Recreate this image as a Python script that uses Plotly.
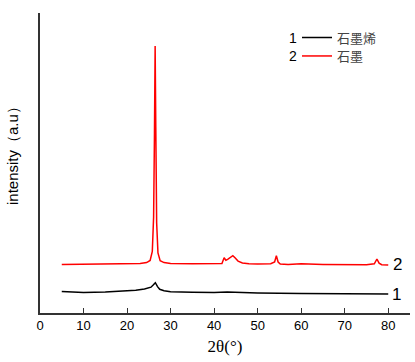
import plotly.graph_objects as go

# 2θ positions and intensities (arbitrary units)
x_graphite = [5, 10, 15, 20, 23, 24.5, 25.3, 25.8, 26.1, 26.3, 26.45, 26.6, 26.8, 27.1, 27.6, 28.5, 30,
              35, 40, 41.8, 42.3, 42.7, 43.1, 43.6, 44.3, 44.8, 45.5, 46.5, 48, 50, 53, 53.9, 54.3,
              54.7, 55.2, 57, 60, 65, 70, 75, 76.8, 77.4, 77.9, 78.5, 80]
y_graphite = [16.2, 16.3, 16.3, 16.4, 16.5, 16.8, 17.5, 20.5, 32, 60, 89, 62, 30, 20, 17.4, 16.8, 16.5,
              16.4, 16.3, 16.5, 18.4, 17.6, 17.9, 18.4, 19.1, 18.4, 17.3, 16.7, 16.4, 16.3, 16.4, 17.0, 19.1,
              17.0, 16.3, 16.2, 16.4, 16.2, 16.1, 16.1, 16.4, 18.0, 16.6, 16.1, 16.0]

x_graphene = [5, 10, 15, 20, 22, 24, 25.5, 26.0, 26.5, 27.0, 27.5, 28.5, 30, 35, 40, 43, 46, 50, 60, 70, 80]
y_graphene = [7.2, 6.8, 7.0, 7.3, 7.6, 8.0, 8.6, 9.3, 10.1, 8.8, 7.9, 7.4, 7.1, 6.9, 6.8, 7.0, 6.8, 6.7, 6.5, 6.4, 6.3]

series_names = ["石墨烯", "石墨"]
series_numbers = ["1", "2"]
x_ticks = [0, 10, 20, 30, 40, 50, 60, 70, 80]

fig = go.Figure()
fig.add_trace(go.Scatter(x=x_graphene, y=y_graphene, mode="lines", name=series_names[0],
                         line=dict(color="#000000", width=1.5), legend="legend"))
fig.add_trace(go.Scatter(x=x_graphite, y=y_graphite, mode="lines", name=series_names[1],
                         line=dict(color="#ff0000", width=1.5), legend="legend2"))

# numbers at the right end of each curve
fig.add_annotation(x=x_graphene[-1], y=y_graphene[-1], text=series_numbers[0], showarrow=False,
                   xanchor="left", xshift=2, font=dict(family="Liberation Sans", size=17, color="#000"))
fig.add_annotation(x=x_graphite[-1], y=y_graphite[-1], text=series_numbers[1], showarrow=False,
                   xanchor="left", xshift=3, yshift=1, font=dict(family="Liberation Sans", size=17, color="#000"))

legend_y = [1 - (37.5 - 13) / 300, 1 - (56 - 13) / 300]

# numbers in front of the legend entries
for i, num in enumerate(series_numbers):
    fig.add_annotation(x=(299 - 40) / 370, y=legend_y[i], xref="paper", yref="paper", text=num,
                       showarrow=False, xanchor="right", yanchor="middle",
                       font=dict(family="Liberation Sans", size=14, color="#000"))

leg_common = dict(x=(297 - 40) / 370, xanchor="left", yanchor="middle",
                  bgcolor="rgba(0,0,0,0)", itemwidth=30,
                  font=dict(family="Noto Sans CJK SC", size=13, color="#444"))

fig.update_layout(
    width=415, height=362,
    margin=dict(l=40, r=5, t=13, b=49),
    paper_bgcolor="white", plot_bgcolor="white",
    showlegend=True,
    legend=dict(y=legend_y[0], **leg_common),
    legend2=dict(y=legend_y[1], **leg_common),
    xaxis=dict(range=[0, 85], tickvals=x_ticks, ticks="inside", ticklen=5, tickcolor="#333",
               showline=True, linecolor="#333", linewidth=1.5, showgrid=False, zeroline=False,
               tickfont=dict(family="Liberation Sans", size=13, color="#000"),
               title=dict(text="2θ(°)", font=dict(family="Liberation Serif", size=17, color="#000"),
                          standoff=8)),
    yaxis=dict(range=[0, 100], showticklabels=False, ticks="", showline=True, linecolor="#333",
               linewidth=1.5, showgrid=False, zeroline=False),
)

fig.add_annotation(x=-40 / 370 + 12 / 370, y=1 - (152 - 13) / 300, xref="paper", yref="paper",
                   text="intensity（a.u）", textangle=-90, showarrow=False,
                   xanchor="center", yanchor="middle",
                   font=dict(family="Liberation Sans", size=15, color="#000"))

fig.write_html("out.html")
